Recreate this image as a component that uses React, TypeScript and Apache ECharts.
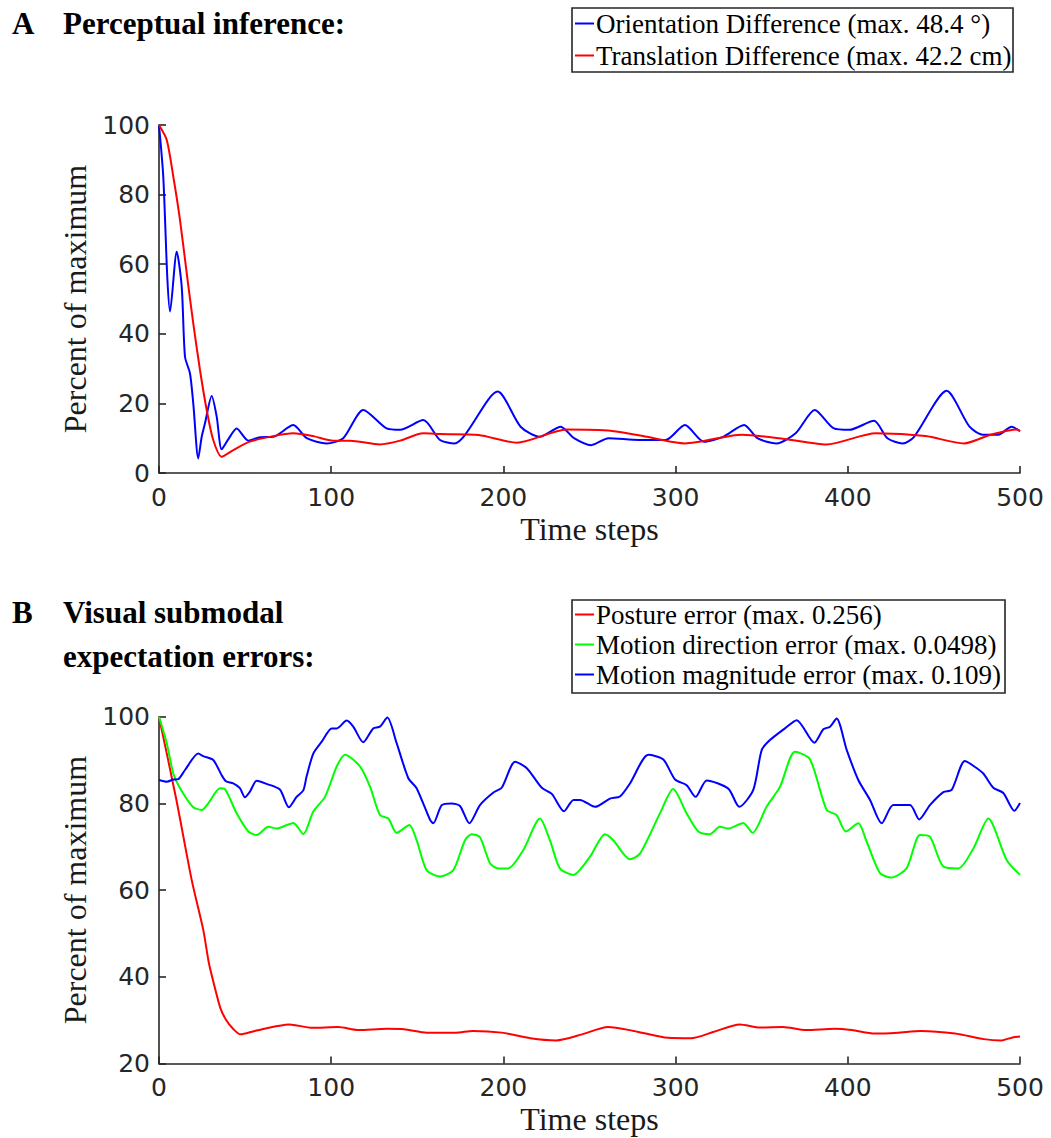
import React, { useEffect, useRef } from "react";
import * as echarts from "echarts";

// Panel A: perceptual inference, percent of maximum over time steps
const orientationX = [0, 2.5, 4.8, 6.4, 10.3, 13.2, 15.1, 18, 19.9, 22.8, 24.8, 26.7, 30.6, 33.5, 36.4, 40, 45.1, 51.9, 58.7, 66.4, 78, 85.8, 97.4, 107, 118.6, 132.2, 140, 153.5, 163.2, 171.5, 196.7, 210, 221, 233.3, 241, 251, 261, 278.8, 294.3, 305.4, 316.5, 327.6, 339.8, 347.5, 358.6, 369.7, 380.8, 391.9, 400.8, 415.2, 423, 431.9, 438.5, 457.4, 470.7, 478.5, 487.3, 495.1, 500];
const orientationY = [100, 85, 56.4, 46.4, 63.6, 53.5, 33.4, 28.6, 20, 4.2, 10.4, 14.3, 22.1, 16.2, 6.8, 9.5, 12.8, 9.3, 10.3, 10.4, 13.8, 10, 8.5, 10, 18.1, 12.8, 12.4, 15.2, 9.5, 8.5, 23.4, 13.3, 10.4, 13.3, 10, 8, 10, 9.5, 9.5, 13.8, 9, 10.4, 13.8, 10, 8.5, 11.4, 18.1, 12.8, 12.4, 15, 10, 8.5, 10.4, 23.6, 13.3, 11, 11, 13.3, 12];

const translationX = [0, 4.5, 8.3, 12.2, 16.1, 19.9, 23.8, 27.7, 31.5, 36.4, 43.1, 52.8, 66.4, 78, 89.6, 101.2, 110.9, 128.3, 140, 153.5, 163.4, 185.6, 207.8, 236.6, 263.2, 283.2, 305.4, 338.7, 363.1, 387.5, 416.3, 445.2, 467.4, 482.9, 498.4, 500];
const translationY = [100, 95.7, 85.2, 72.7, 57.4, 43, 29.6, 18.1, 9.5, 4.7, 6.6, 9, 10.6, 11.4, 10.6, 9.3, 9.3, 8.2, 9.3, 11.4, 11.2, 10.9, 8.7, 12.5, 12.1, 10.4, 8.5, 11, 9.8, 8.2, 11.4, 10.6, 8.5, 11, 12.5, 12];

// Panel B: visual submodal expectation errors
const postureX = [0, 10, 19, 25.7, 29, 32.3, 35.7, 39, 43, 47.3, 55.7, 75.7, 89, 104, 115.7, 132.3, 142.3, 155.7, 172.3, 182.3, 199, 215.7, 230.7, 245.7, 260.7, 275.7, 295.7, 309, 322.3, 337.3, 349, 362.3, 375.7, 392.3, 402.3, 415.7, 429, 442.3, 462.3, 479, 489, 495.7, 500];
const postureY = [100, 81, 62.3, 50.8, 43.1, 37.7, 32.7, 30, 28, 26.7, 27.5, 29, 28.2, 28.4, 27.7, 28, 27.9, 27.1, 27.1, 27.5, 27.1, 25.8, 25.3, 26.7, 28.4, 27.5, 25.9, 25.8, 27.3, 29, 28.3, 28.4, 27.7, 28, 27.7, 26.9, 27.1, 27.5, 26.9, 25.6, 25.3, 26, 26.2];

const directionX = [0, 4.5, 8.3, 12.2, 19.9, 24.8, 28.6, 35.4, 38.3, 45.1, 51.9, 56.7, 63.5, 68.4, 78, 83.8, 89.6, 96.4, 103.2, 108, 116.8, 122.6, 128.3, 133.2, 138, 145.4, 149.6, 155.4, 163.2, 170.9, 177.7, 181.5, 186.4, 192.2, 197, 202.8, 211.5, 221.2, 227, 232.8, 240.5, 250.3, 259, 263.8, 273.5, 279.3, 290.9, 298.6, 306.4, 313.2, 319.9, 325.7, 330.6, 339.3, 344.7, 352.8, 360.6, 369.3, 378, 387.7, 393.5, 398.9, 406.1, 410.9, 418.7, 425.4, 434.1, 441.9, 447.7, 455.5, 464.2, 472.9, 481.6, 492.3, 500];
const directionY = [100, 93.9, 86.9, 83.5, 79.1, 78.5, 80, 83.5, 83.3, 77.7, 73.5, 72.7, 74.6, 74.2, 75.5, 72.9, 78.1, 81.5, 88.5, 91.2, 88.5, 83.8, 77.3, 76.5, 73.2, 75, 71.5, 64.6, 63.1, 64.6, 71.5, 72.9, 72.2, 66.2, 65, 65, 69.2, 76.5, 71.5, 65, 63.5, 67.7, 72.9, 71.5, 67.1, 68.4, 77.7, 83.3, 77.7, 73.5, 72.9, 74.6, 74.2, 75.5, 73.2, 79.2, 83.8, 91.9, 90.2, 78.5, 77.3, 73.5, 75.4, 71.2, 63.9, 62.9, 65, 72.7, 72.3, 65.4, 65, 69.6, 76.5, 66.9, 63.5];

const magnitudeX = [0, 4.5, 8.3, 11.2, 15.1, 22.8, 25.7, 31.5, 36.4, 38.9, 43.1, 47, 49.9, 52.8, 56.7, 62.5, 70.2, 75.4, 79.9, 83.8, 85.7, 89.6, 94.4, 100.3, 103.2, 109, 112.8, 118.6, 124.4, 128.3, 132.6, 138, 144.8, 149.6, 157.4, 159.3, 164.2, 170, 174.8, 180.2, 186.4, 194.2, 199, 206.8, 213.6, 222.3, 228.1, 235.2, 240.7, 244.5, 253.2, 261.9, 267.7, 273.5, 284.2, 292.9, 299.7, 306.4, 311.6, 318.1, 330.6, 337, 345.1, 350, 354.8, 363.5, 370.3, 380.6, 385.8, 389.7, 393.5, 399.4, 406.1, 412.9, 419.7, 426.4, 436.1, 441.5, 447.7, 455.5, 460.3, 468, 473.9, 478.7, 484.5, 490.3, 496.7, 500];
const magnitudeY = [85.4, 85, 85.5, 85.6, 87.7, 91.5, 90.9, 90, 86.5, 85.1, 84.6, 83.5, 81.4, 82.7, 85.2, 84.5, 83.2, 79.1, 81.5, 83, 86.2, 91.5, 94.2, 97.3, 97.3, 99.1, 97.7, 94.1, 97.3, 97.7, 99.8, 93.9, 85.8, 83.5, 76.2, 75.4, 79.6, 80, 79.4, 75.4, 79.6, 82.5, 83.6, 89.6, 88.1, 83.6, 82.2, 78.2, 80.8, 80.8, 79.2, 81.1, 81.6, 84.6, 91.2, 90.1, 85.5, 84.2, 81.5, 85.3, 83.4, 79.2, 83.1, 92.3, 94.6, 97.3, 99.2, 94, 97.1, 97.7, 99.6, 92.3, 85.4, 80.8, 75.4, 79.6, 79.6, 76.3, 79.6, 82.6, 83.1, 89.8, 88.4, 86.9, 83.6, 82.4, 78.3, 80.1];

const legendA = ["Orientation Difference (max. 48.4 °)", "Translation Difference (max. 42.2 cm)"];
const legendB = ["Posture error (max. 0.256)", "Motion direction error (max. 0.0498)", "Motion magnitude error (max. 0.109)"];

const AXIS_COLOR = "#262626";
const SERIF = "'Liberation Serif', 'Times New Roman', serif";
const SANS = "'DejaVu Sans', sans-serif";

const zip = (xs: number[], ys: number[]) => xs.map((x, i) => [x, ys[i]]);

function xAxisFor(gridIndex: number) {
  return {
    type: "value",
    gridIndex,
    min: 0,
    max: 500,
    interval: 100,
    name: "Time steps",
    nameLocation: "middle",
    nameGap: 40,
    nameTextStyle: { fontFamily: SERIF, fontSize: 32, color: "#1a1a1a", verticalAlign: "top" },
    axisLine: { show: true, onZero: false, lineStyle: { color: AXIS_COLOR, width: 1.6 } },
    axisTick: { show: true, inside: true, length: 7, lineStyle: { color: AXIS_COLOR, width: 1.6 } },
    axisLabel: { fontFamily: SANS, fontSize: 25, color: AXIS_COLOR, margin: 12 },
    splitLine: { show: false },
  };
}

function yAxisFor(gridIndex: number, min: number) {
  return {
    type: "value",
    gridIndex,
    min,
    max: 100,
    interval: 20,
    name: "Percent of maximum",
    nameLocation: "middle",
    nameGap: 66,
    nameTextStyle: { fontFamily: SERIF, fontSize: 32, color: "#1a1a1a" },
    axisLine: { show: true, onZero: false, lineStyle: { color: AXIS_COLOR, width: 1.6 } },
    axisTick: { show: true, inside: true, length: 7, lineStyle: { color: AXIS_COLOR, width: 1.6 } },
    axisLabel: { fontFamily: SANS, fontSize: 25, color: AXIS_COLOR, margin: 9 },
    splitLine: { show: false },
  };
}

function lineSeries(name: string, data: number[][], color: string, axis: number) {
  return {
    type: "line",
    name,
    data,
    xAxisIndex: axis,
    yAxisIndex: axis,
    symbol: "none",
    showSymbol: false,
    smooth: 0.25,
    color,
    lineStyle: { color, width: 2 },
  };
}

function legendFor(names: string[], left: number, top: number, gap: number) {
  return {
    data: names,
    orient: "vertical",
    left,
    top,
    padding: 0,
    itemGap: gap,
    itemWidth: 19,
    itemHeight: 2,
    icon: "rect",
    selectedMode: false,
    textStyle: { fontFamily: SERIF, fontSize: 27, color: "#000", padding: [0, 0, 0, -3] },
  };
}

function titleText(x: number, y: number, text: string) {
  return {
    type: "text",
    x,
    y,
    style: { text, fontFamily: SERIF, fontSize: 31, fontWeight: "bold", fill: "#000", verticalAlign: "middle" },
  };
}

export default function App() {
  const ref = useRef<HTMLDivElement>(null);

  useEffect(() => {
    if (!ref.current) return;
    const chart = echarts.init(ref.current, null, { renderer: "svg" });
    chart.setOption({
      animation: false,
      backgroundColor: "#fff",
      grid: [
        { left: 159, top: 125, width: 861, height: 348 },
        { left: 159, top: 716.7, width: 861, height: 346.7 },
      ],
      xAxis: [xAxisFor(0), xAxisFor(1)],
      yAxis: [yAxisFor(0, 0), yAxisFor(1, 20)],
      legend: [legendFor(legendA, 575, 10, 5), legendFor(legendB, 575, 601, 3)],
      graphic: [
        titleText(12, 23, "A"),
        titleText(63, 23, "Perceptual inference:"),
        titleText(12, 612, "B"),
        titleText(63, 612, "Visual submodal"),
        titleText(63, 656, "expectation errors:"),
        {
          type: "rect",
          shape: { x: 572, y: 8, width: 441, height: 64 },
          style: { fill: "none", stroke: AXIS_COLOR, lineWidth: 1.6 },
        },
        {
          type: "rect",
          shape: { x: 572, y: 600, width: 433, height: 93 },
          style: { fill: "none", stroke: AXIS_COLOR, lineWidth: 1.6 },
        },
      ],
      series: [
        lineSeries(legendA[0], zip(orientationX, orientationY), "#0000ff", 0),
        lineSeries(legendA[1], zip(translationX, translationY), "#ff0000", 0),
        lineSeries(legendB[0], zip(postureX, postureY), "#ff0000", 1),
        lineSeries(legendB[1], zip(directionX, directionY), "#00ff00", 1),
        lineSeries(legendB[2], zip(magnitudeX, magnitudeY), "#0000ff", 1),
      ],
    });
    return () => chart.dispose();
  }, []);

  return (
    <div
      ref={ref}
      style={{ position: "absolute", left: 0, top: 0, width: 1051, height: 1138, background: "#fff" }}
    />
  );
}
